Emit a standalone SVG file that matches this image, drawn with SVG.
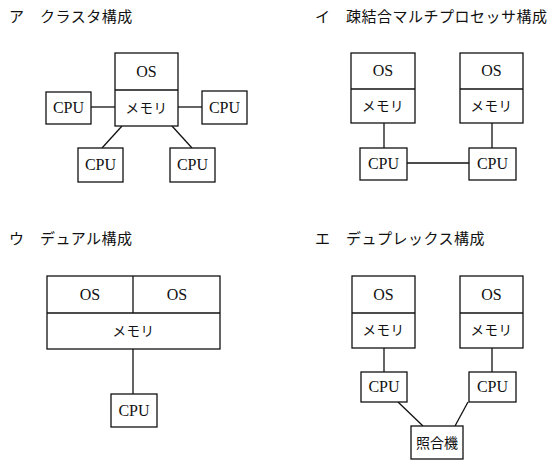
<svg xmlns="http://www.w3.org/2000/svg" width="557" height="470" viewBox="0 0 557 470">
<style>
rect, line { stroke: #111; stroke-width: 1.3; }
rect { fill: #fff; }
.t { font-family: "Noto Sans CJK JP", sans-serif; font-size: 15px; fill: #111; letter-spacing: 0.5px; }
.e { font-family: "Liberation Serif", serif; font-size: 16px; fill: #111; text-anchor: middle; }
.j { font-family: "Noto Sans CJK JP", sans-serif; font-size: 13.5px; fill: #111; text-anchor: middle; letter-spacing: 0.5px; }
.k { font-family: "Noto Sans CJK JP", sans-serif; font-size: 14px; fill: #111; text-anchor: middle; }
</style>
<rect x="0" y="0" width="557" height="470" style="fill:#fff;stroke:none"/>
<g id="titles">
<text class="t" x="9" y="22">ア　クラスタ構成</text>
<text class="t" x="315" y="22">イ　疎結合マルチプロセッサ構成</text>
<text class="t" x="9" y="244">ウ　デュアル構成</text>
<text class="t" x="315" y="244">エ　デュプレックス構成</text>
</g>
<g id="connectors">
<line x1="91" y1="107" x2="115" y2="107"/>
<line x1="178" y1="107" x2="202" y2="107"/>
<line x1="122" y1="126" x2="102" y2="148"/>
<line x1="172" y1="126" x2="192" y2="148"/>
<line x1="384" y1="123" x2="384" y2="148"/>
<line x1="492" y1="123" x2="492" y2="148"/>
<line x1="407" y1="163" x2="469" y2="163"/>
<line x1="133" y1="349" x2="133" y2="394"/>
<line x1="384" y1="348" x2="384" y2="372"/>
<line x1="492" y1="348" x2="492" y2="372"/>
<line x1="398" y1="402" x2="423" y2="426"/>
<line x1="468" y1="402" x2="455" y2="426"/>
</g>
<g id="a-mem">
<rect x="115" y="53" width="63" height="73"/>
<line x1="115" y1="90" x2="178" y2="90"/>
<text class="e" x="146.5" y="77">OS</text>
<text class="j" x="146.5" y="113">メモリ</text>
</g>
<g id="a-cpu1"><rect x="46" y="92" width="45" height="32"/><text class="e" x="68.5" y="113">CPU</text></g>
<g id="a-cpu2"><rect x="202" y="91" width="45" height="33"/><text class="e" x="224.5" y="113">CPU</text></g>
<g id="a-cpu3"><rect x="78" y="148" width="45" height="34"/><text class="e" x="100.5" y="170">CPU</text></g>
<g id="a-cpu4"><rect x="170" y="148" width="45" height="34"/><text class="e" x="192.5" y="170">CPU</text></g>
<g id="i-mem1">
<rect x="351" y="53" width="64" height="70"/>
<line x1="351" y1="89" x2="415" y2="89"/>
<text class="e" x="383" y="76">OS</text>
<text class="j" x="383" y="111">メモリ</text>
</g>
<g id="i-mem2">
<rect x="460" y="53" width="63" height="70"/>
<line x1="460" y1="89" x2="523" y2="89"/>
<text class="e" x="491.5" y="76">OS</text>
<text class="j" x="491.5" y="111">メモリ</text>
</g>
<g id="i-cpu1"><rect x="360" y="148" width="47" height="32"/><text class="e" x="383.5" y="169">CPU</text></g>
<g id="i-cpu2"><rect x="469" y="148" width="47" height="32"/><text class="e" x="492.5" y="169">CPU</text></g>
<g id="u-mem">
<rect x="47" y="276" width="173" height="73"/>
<line x1="47" y1="313" x2="220" y2="313"/>
<line x1="133" y1="276" x2="133" y2="313"/>
<text class="e" x="90" y="300">OS</text>
<text class="e" x="177" y="300">OS</text>
<text class="j" x="133.5" y="336">メモリ</text>
</g>
<g id="u-cpu"><rect x="111" y="394" width="46" height="33"/><text class="e" x="134" y="416">CPU</text></g>
<g id="e-mem1">
<rect x="352" y="276" width="63" height="72"/>
<line x1="352" y1="313" x2="415" y2="313"/>
<text class="e" x="383.5" y="300">OS</text>
<text class="j" x="383.5" y="335">メモリ</text>
</g>
<g id="e-mem2">
<rect x="460" y="276" width="63" height="72"/>
<line x1="460" y1="313" x2="523" y2="313"/>
<text class="e" x="491.5" y="300">OS</text>
<text class="j" x="491.5" y="335">メモリ</text>
</g>
<g id="e-cpu1"><rect x="361" y="372" width="46" height="30"/><text class="e" x="384" y="392">CPU</text></g>
<g id="e-cpu2"><rect x="469" y="372" width="47" height="30"/><text class="e" x="492.5" y="392">CPU</text></g>
<g id="e-cmp"><rect x="411" y="426" width="52" height="33"/><text class="k" x="437" y="448">照合機</text></g>
</svg>
